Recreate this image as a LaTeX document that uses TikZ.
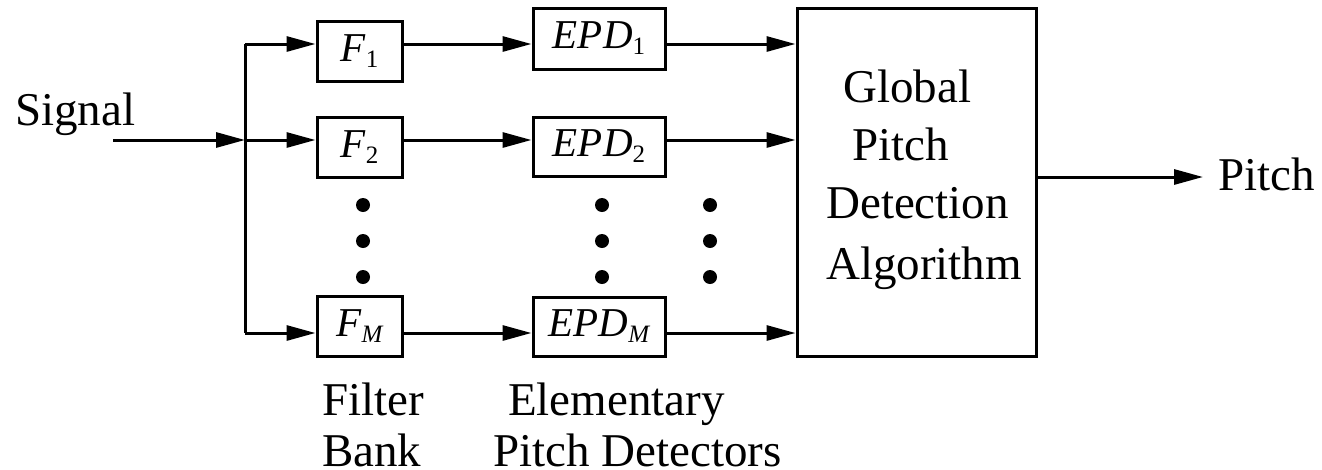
\documentclass[tikz,border=0pt]{standalone}
\usepackage{fontspec}
\setmainfont{Liberation Serif}
\usetikzlibrary{arrows.meta}
\tikzset{
  blk/.style={draw, line width=3pt, inner sep=0pt, font=\fontsize{41}{41}\selectfont\itshape},
  lbl/.style={inner sep=0pt, anchor=base west, font=\fontsize{47}{47}\selectfont},
  wire/.style={line width=3pt},
  arr/.style={wire, -{Triangle[length=29pt, width=15pt]}},
  dotmark/.style={fill=black, draw=none}
}
\newcommand{\subsc}[1]{\raisebox{-6pt}{\fontsize{25}{25}\selectfont #1}}
\begin{document}
\begin{tikzpicture}[x=1pt, y=-1pt]
\useasboundingbox (0,0) rectangle (1322,469);
% boxes
\node[blk, minimum width=85pt, minimum height=60pt] (F1) at (359.5,51) {F\subsc{\upshape 1}};
\node[blk, minimum width=85pt, minimum height=60pt] (F2) at (359.5,147) {F\subsc{\upshape 2}};
\node[blk, minimum width=85pt, minimum height=60pt] (FM) at (359.5,326.5) {F\subsc{M}};
\node[blk, minimum width=132pt, minimum height=61pt] (E1) at (599,38.5) {EPD\subsc{\upshape 1}};
\node[blk, minimum width=132pt, minimum height=59pt] (E2) at (599,146.5) {EPD\subsc{\upshape 2}};
\node[blk, minimum width=132pt, minimum height=59pt] (EM) at (599,326.5) {EPD\subsc{M}};
\node[draw, line width=3pt, minimum width=239pt, minimum height=348pt, inner sep=0pt] (G) at (916.5,182) {};
% global text
\node[lbl] (g1) at (843,102) {Global};
\node[lbl] (g2) at (852,160) {Pitch};
\node[lbl] (g3) at (826,218) {Detection};
\node[lbl] (g4) at (826,279) {Algorithm};
% labels
\node[lbl] (sig) at (15,125) {Signal};
\node[lbl] (pit) at (1218,190) {Pitch};
\node[lbl] (fb1) at (322,415) {Filter};
\node[lbl] (fb2) at (322,466) {Bank};
\node[lbl] (ep1) at (508,415) {Elementary};
\node[lbl] (ep2) at (493,466) {Pitch Detectors};
% rows
\coordinate (r1) at (0,44);
\coordinate (r2) at (0,140);
\coordinate (rM) at (0,333);
\coordinate (sin) at (113,140);
\coordinate (j2) at (245,140);
\coordinate (j1) at (245,44);
\coordinate (jM) at (245,333);
\coordinate (pout) at (1203,177);
% connectors
\draw[arr] (sin) -- (j2);
\draw[wire] (j1) -- (jM);
\draw[arr] (j1) -- (F1.west |- j1);
\draw[arr] (j2) -- (F2.west |- j2);
\draw[arr] (jM) -- (FM.west |- jM);
\draw[arr] (F1.east |- r1) -- (E1.west |- r1);
\draw[arr] (F2.east |- r2) -- (E2.west |- r2);
\draw[arr] (FM.east |- rM) -- (EM.west |- rM);
\draw[arr] (E1.east |- r1) -- (G.west |- r1);
\draw[arr] (E2.east |- r2) -- (G.west |- r2);
\draw[arr] (EM.east |- rM) -- (G.west |- rM);
\draw[arr] (G.east |- pout) -- (pout);
% dots
\foreach \x in {363,602,710}{
  \foreach \y in {205,241,277}{
    \fill[dotmark] (\x,\y) circle (7pt);
  }
}
\end{tikzpicture}
\end{document}
